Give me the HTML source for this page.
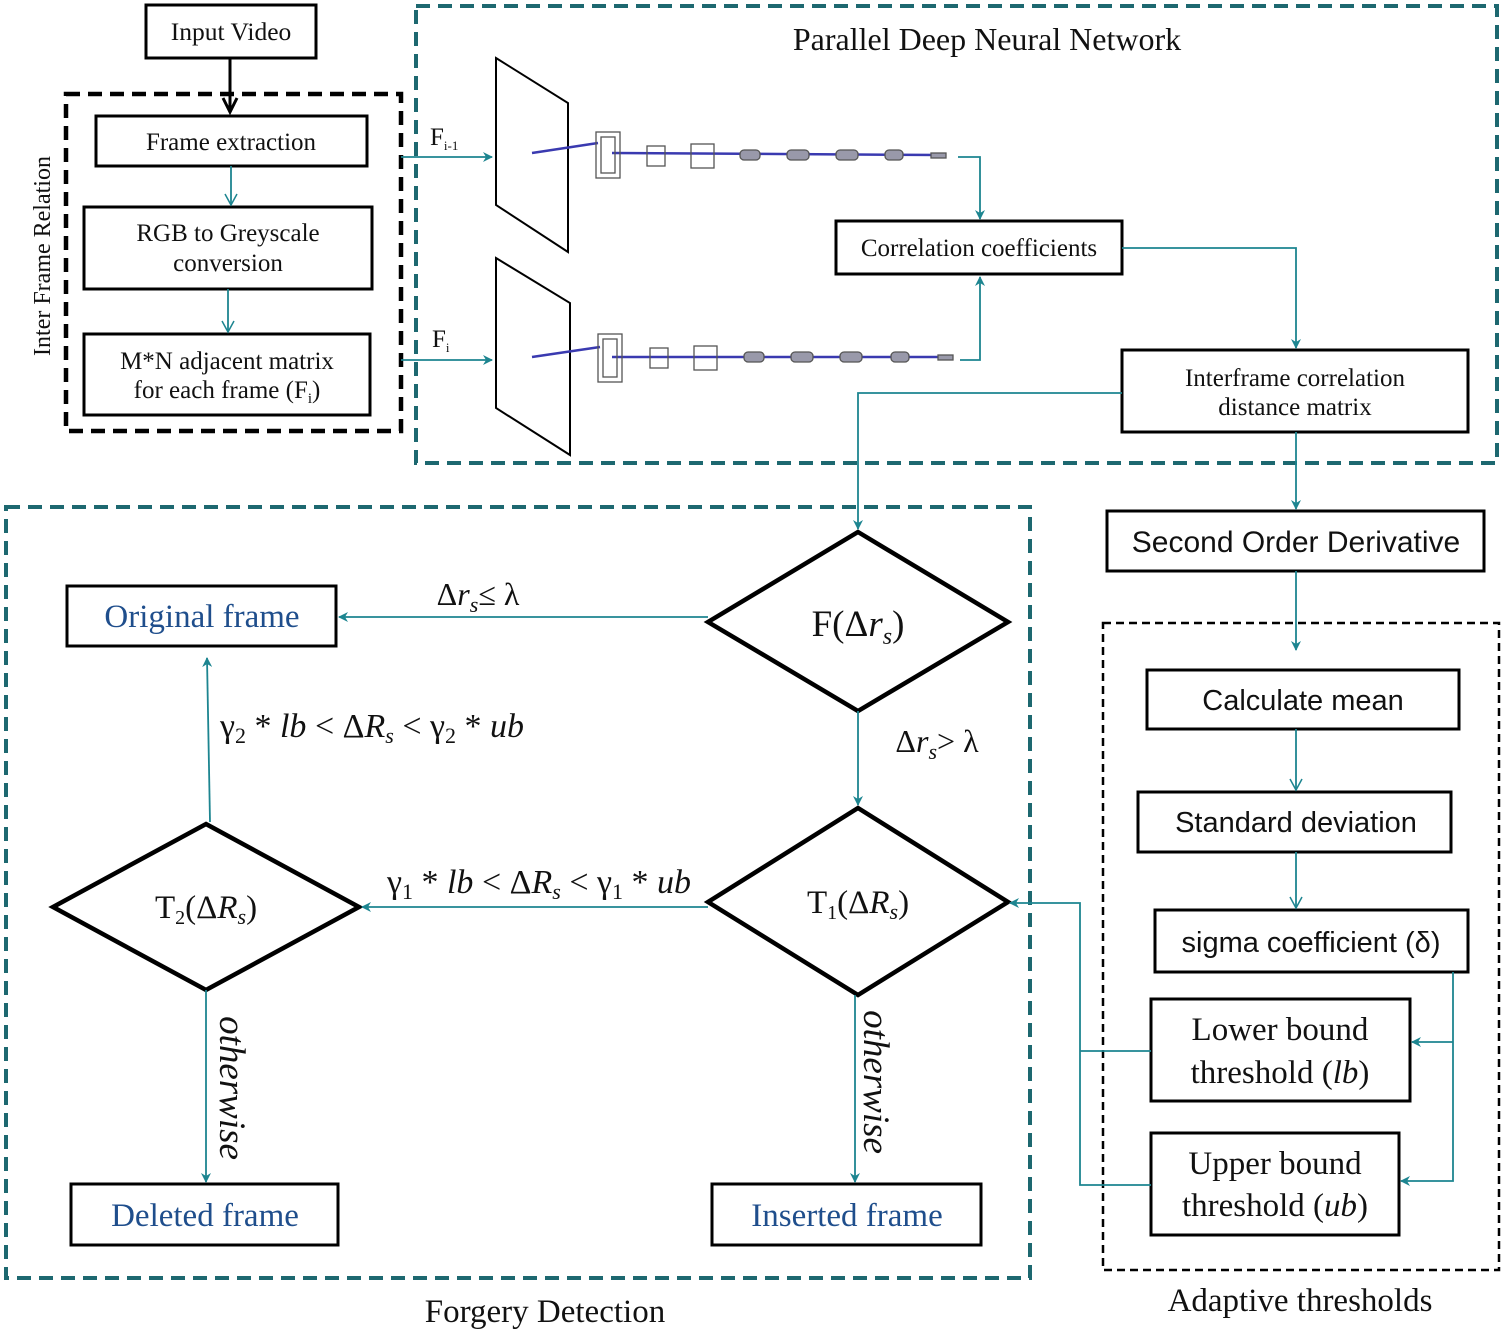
<!DOCTYPE html>
<html><head><meta charset="utf-8"><style>
html,body{margin:0;padding:0;background:#fff;}
svg{display:block;}
text{font-family:"Liberation Serif",serif;fill:#111;}
.s{font-family:"Liberation Sans",sans-serif;}
.b{fill:#1f4e8c;}
.i{font-style:italic;}
</style></head><body>
<svg width="1505" height="1334" viewBox="0 0 1505 1334" xmlns="http://www.w3.org/2000/svg">
<defs>
<marker id="a" markerWidth="10" markerHeight="10" refX="9" refY="5" orient="auto" markerUnits="userSpaceOnUse" viewBox="0 0 10 10"><path d="M0,0 L10,5 L0,10 L3,5 z" fill="#1d8590"/></marker>
<marker id="o" markerWidth="14" markerHeight="14" refX="12" refY="7" orient="auto" markerUnits="userSpaceOnUse" viewBox="0 0 14 14"><path d="M1,1 L12,7 L1,13" fill="none" stroke="#1d8590" stroke-width="1.5"/></marker>
<marker id="k" markerWidth="18" markerHeight="18" refX="15" refY="9" orient="auto" markerUnits="userSpaceOnUse" viewBox="0 0 18 18"><path d="M1,2 L15,9 L1,16" fill="none" stroke="#000" stroke-width="3"/></marker>
</defs>
<g fill="none">
<rect x="66" y="94" width="335" height="337" stroke="#000" stroke-width="4.5" stroke-dasharray="14,8"/>
<rect x="416" y="6" width="1081" height="457" stroke="#1d6870" stroke-width="4" stroke-dasharray="14,8"/>
<rect x="6" y="507" width="1024" height="771" stroke="#1d6870" stroke-width="4" stroke-dasharray="14,8"/>
<rect x="1103" y="623" width="396" height="647" stroke="#000" stroke-width="2.5" stroke-dasharray="8,5"/>
<g stroke="#000" stroke-width="3">
<rect x="146" y="5" width="170" height="53"/>
<rect x="96" y="116" width="271" height="50"/>
<rect x="84" y="207" width="288" height="82"/>
<rect x="84" y="334" width="286" height="81"/>
<rect x="836" y="221" width="286" height="53"/>
<rect x="1122" y="350" width="346" height="82"/>
<rect x="1107" y="511" width="377" height="60"/>
<rect x="1147" y="670" width="312" height="59"/>
<rect x="1138" y="792" width="313" height="60"/>
<rect x="1155" y="910" width="313" height="62"/>
<rect x="1151" y="999" width="259" height="102"/>
<rect x="1151" y="1133" width="248" height="102"/>
<rect x="67" y="586" width="269" height="60"/>
<rect x="71" y="1184" width="267" height="61"/>
<rect x="712" y="1184" width="269" height="61"/>
</g>
<g stroke="#000" stroke-width="4.5">
<polygon points="858,532 1008,622 858,711 708,622"/>
<polygon points="858,808 1008,902 858,995 708,902"/>
<polygon points="206,824 359,907 206,990 53,907"/>
</g>
<g stroke="#000" stroke-width="2">
<polygon points="496,58 568,103 568,252 496,205"/>
<polygon points="496,258 570,303 570,455 496,408"/>
</g>
<g stroke="#3a3ab0" stroke-width="2.5">
<path d="M532,153 L598,143 M612,153 L940,155"/>
<path d="M532,357 L600,347 M612,357 L940,357"/>
</g>
<g stroke="#555" stroke-width="1.3" fill="none">
<rect x="596" y="132" width="24" height="46"/><rect x="601" y="137" width="14" height="36"/>
<rect x="647" y="146" width="18" height="20"/><rect x="691" y="144" width="23" height="24"/>
<rect x="598" y="334" width="24" height="48"/><rect x="603" y="339" width="14" height="38"/>
<rect x="650" y="348" width="18" height="20"/><rect x="694" y="346" width="23" height="24"/>
</g>
<g stroke="#555" stroke-width="1.3" fill="#99a">
<rect x="740" y="150" width="20" height="10" rx="4"/><rect x="787" y="150" width="22" height="10" rx="4"/><rect x="836" y="150" width="22" height="10" rx="4"/><rect x="885" y="150" width="18" height="10" rx="4"/><rect x="931" y="153" width="15" height="5"/>
<rect x="744" y="352" width="20" height="10" rx="4"/><rect x="791" y="352" width="22" height="10" rx="4"/><rect x="840" y="352" width="22" height="10" rx="4"/><rect x="891" y="352" width="18" height="10" rx="4"/><rect x="938" y="355" width="15" height="5"/>
</g>
<path d="M230,58 V112" stroke="#000" stroke-width="3" marker-end="url(#k)"/>
<g stroke="#1d8590" stroke-width="1.8">
<path d="M231,166 V205" marker-end="url(#o)"/>
<path d="M228,289 V332" marker-end="url(#o)"/>
<path d="M1296,729 V790" marker-end="url(#o)"/>
<path d="M1296,852 V908" marker-end="url(#o)"/>
<path d="M401,157 H492" marker-end="url(#a)"/>
<path d="M401,360 H492" marker-end="url(#a)"/>
<path d="M958,157 H980 V219" marker-end="url(#a)"/>
<path d="M960,360 H980 V277" marker-end="url(#a)"/>
<path d="M1122,248 H1296 V348" marker-end="url(#a)"/>
<path d="M1122,393 H858 V529" marker-end="url(#a)"/>
<path d="M1296,432 V509" marker-end="url(#a)"/>
<path d="M1296,571 V650" marker-end="url(#a)"/>
<path d="M1453,972 V1181 H1401" marker-end="url(#a)"/>
<path d="M1453,1042 H1412" marker-end="url(#a)"/>
<path d="M1151,1051 H1080 M1151,1185 H1080 V903 H1010" marker-end="url(#a)"/>
<path d="M708,617 H339" marker-end="url(#a)"/>
<path d="M858,711 V805" marker-end="url(#a)"/>
<path d="M708,907 H362" marker-end="url(#a)"/>
<path d="M210,822 L207,658" marker-end="url(#a)"/>
<path d="M206,990 V1182" marker-end="url(#a)"/>
<path d="M855,995 V1182" marker-end="url(#a)"/>
</g>
</g>
<g text-anchor="middle">
<text x="231" y="40" font-size="25.5">Input Video</text>
<text x="231" y="150" font-size="25">Frame extraction</text>
<text x="228" y="241" font-size="25">RGB to Greyscale</text>
<text x="228" y="271" font-size="25">conversion</text>
<text x="227" y="369" font-size="25">M*N adjacent matrix</text>
<text x="227" y="398" font-size="25">for each frame (F<tspan font-size="15" dy="5">i</tspan><tspan dy="-5">)</tspan></text>
<text x="0" y="0" font-size="24" transform="translate(50,256) rotate(-90)">Inter Frame Relation</text>
<text x="987" y="50" font-size="32">Parallel Deep Neural Network</text>
<text x="979" y="256" font-size="25">Correlation coefficients</text>
<text x="1295" y="386" font-size="25">Interframe correlation</text>
<text x="1295" y="415" font-size="25">distance matrix</text>
<text x="1296" y="552" font-size="30" class="s">Second Order Derivative</text>
<text x="1303" y="710" font-size="29" class="s">Calculate mean</text>
<text x="1296" y="832" font-size="29" class="s">Standard deviation</text>
<text x="1311" y="952" font-size="29" class="s">sigma coefficient (δ)</text>
<text x="1280" y="1040" font-size="33">Lower bound</text>
<text x="1280" y="1083" font-size="33">threshold (<tspan class="i">lb</tspan>)</text>
<text x="1275" y="1174" font-size="33">Upper bound</text>
<text x="1275" y="1216" font-size="33">threshold (<tspan class="i">ub</tspan>)</text>
<text x="1300" y="1311" font-size="33">Adaptive thresholds</text>
<text x="545" y="1322" font-size="33">Forgery Detection</text>
<text x="202" y="627" font-size="33" class="b">Original frame</text>
<text x="205" y="1226" font-size="33" class="b">Deleted frame</text>
<text x="847" y="1226" font-size="33" class="b">Inserted frame</text>
<text x="858" y="636" font-size="37">F(Δ<tspan class="i">r</tspan><tspan class="i" font-size="24" dy="8">s</tspan><tspan dy="-8">)</tspan></text>
<text x="858" y="913" font-size="33">T<tspan font-size="20" dy="6">1</tspan><tspan dy="-6">(Δ</tspan><tspan class="i">R</tspan><tspan class="i" font-size="22" dy="6">s</tspan><tspan dy="-6">)</tspan></text>
<text x="206" y="918" font-size="33">T<tspan font-size="20" dy="6">2</tspan><tspan dy="-6">(Δ</tspan><tspan class="i">R</tspan><tspan class="i" font-size="22" dy="6">s</tspan><tspan dy="-6">)</tspan></text>
<text x="478" y="605" font-size="32">Δ<tspan class="i">r</tspan><tspan class="i" font-size="22" dy="7">s</tspan><tspan dy="-7">≤ λ</tspan></text>
<text x="937" y="752" font-size="32">Δ<tspan class="i">r</tspan><tspan class="i" font-size="22" dy="7">s</tspan><tspan dy="-7">&gt;  λ</tspan></text>
<text x="372" y="737" font-size="34">γ<tspan font-size="22" dy="6">2</tspan><tspan dy="-6"> * </tspan><tspan class="i">lb</tspan> &lt; Δ<tspan class="i">R</tspan><tspan class="i" font-size="22" dy="6">s</tspan><tspan dy="-6"> &lt; γ</tspan><tspan font-size="22" dy="6">2</tspan><tspan dy="-6"> * </tspan><tspan class="i">ub</tspan></text>
<text x="539" y="893" font-size="34">γ<tspan font-size="22" dy="6">1</tspan><tspan dy="-6"> * </tspan><tspan class="i">lb</tspan> &lt; Δ<tspan class="i">R</tspan><tspan class="i" font-size="22" dy="6">s</tspan><tspan dy="-6"> &lt; γ</tspan><tspan font-size="22" dy="6">1</tspan><tspan dy="-6"> * </tspan><tspan class="i">ub</tspan></text>
<text class="i" font-size="37" transform="translate(220,1088) rotate(90)">otherwise</text>
<text class="i" font-size="37" transform="translate(864,1082) rotate(90)">otherwise</text>
</g>
<text x="430" y="145" font-size="25">F<tspan font-size="13" dy="5">i-1</tspan></text>
<text x="432" y="347" font-size="25">F<tspan font-size="13" dy="5">i</tspan></text>
</svg>
</body></html>
